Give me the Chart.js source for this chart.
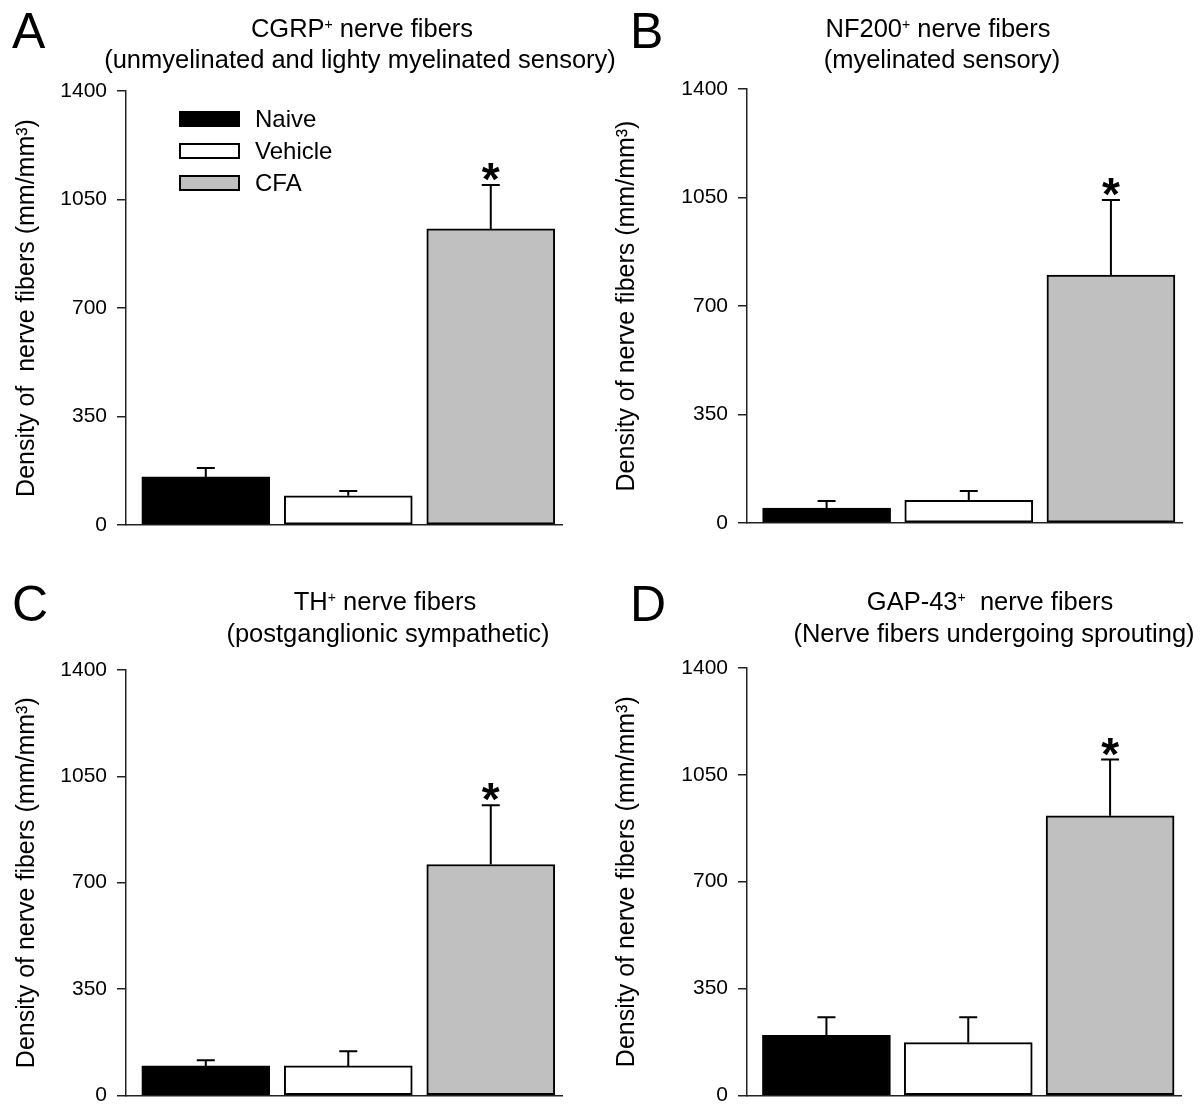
<!DOCTYPE html>
<html>
<head>
<meta charset="utf-8">
<script src="https://cdn.jsdelivr.net/npm/chart.js@4.4.1/dist/chart.umd.min.js"></script>
<style>
  body { margin: 0; background: #fff; font-family: "Liberation Sans", Arial, sans-serif; color: #000; }
  #wrap { position: relative; width: 1200px; height: 1118px; overflow: hidden; }
  canvas { position: absolute; }
  .letter { position: absolute; font-size: 50px; line-height: 1; }
  .ttl { position: absolute; font-size: 25.5px; line-height: 1; white-space: nowrap; transform: translateX(-50%); }
  .ttl sup { font-size: 55%; position: relative; top: -0.55em; vertical-align: baseline; }
  .lg { position: absolute; left: 179px; width: 57px; height: 12px; border: 2px solid #000; }
  .lgt { position: absolute; left: 255px; font-size: 24px; line-height: 1; }
</style>
</head>
<body>
<div id="wrap">
  <canvas id="chartA" width="600" height="559" style="left:0;top:0"></canvas>
  <canvas id="chartB" width="600" height="559" style="left:600px;top:0"></canvas>
  <canvas id="chartC" width="600" height="559" style="left:0;top:559px"></canvas>
  <canvas id="chartD" width="600" height="559" style="left:600px;top:559px"></canvas>

  <div class="letter" style="left:12px;top:6px">A</div>
  <div class="letter" style="left:630px;top:6px">B</div>
  <div class="letter" style="left:12px;top:579px">C</div>
  <div class="letter" style="left:630px;top:579px">D</div>

  <div class="ttl" style="left:362px;top:16px">CGRP<sup>+</sup> nerve fibers</div>
  <div class="ttl" style="left:360px;top:47px">(unmyelinated and lighty myelinated sensory)</div>
  <div class="ttl" style="left:938px;top:16px">NF200<sup>+</sup> nerve fibers</div>
  <div class="ttl" style="left:942px;top:47px">(myelinated sensory)</div>
  <div class="ttl" style="left:385px;top:589px">TH<sup>+</sup> nerve fibers</div>
  <div class="ttl" style="left:388px;top:621px">(postganglionic sympathetic)</div>
  <div class="ttl" style="left:990px;top:589px">GAP-43<sup>+</sup>&nbsp; nerve fibers</div>
  <div class="ttl" style="left:994px;top:621px">(Nerve fibers undergoing sprouting)</div>

  <div class="lg" style="top:111px;background:#000"></div>
  <div class="lg" style="top:143px;background:#fff"></div>
  <div class="lg" style="top:175px;background:#c0c0c0"></div>
  <div class="lgt" style="top:107px">Naive</div>
  <div class="lgt" style="top:139px">Vehicle</div>
  <div class="lgt" style="top:171px">CFA</div>
</div>

<script>
// groups (bar order) and y axis
const groups = ['Naive', 'Vehicle', 'CFA'];
const yMin = 0;
const yMax = 1400;
const yStep = 350;

// mean and SEM per panel
const cgrpMean = [155, 94, 955];
const cgrpSem = [29, 16, 142];
const nf200Mean = [48, 73, 800];
const nf200Sem = [23, 30, 242];
const thMean = [97, 97, 760];
const thSem = [19, 48, 195];
const gap43Mean = [197, 173, 916];
const gap43Sem = [59, 83, 184];
const significant = [false, false, true];

const barColors = ['#000000', '#ffffff', '#c0c0c0'];
const fontFamily = '"Liberation Sans", Arial, sans-serif';

// draws SEM whiskers (upper only) and the significance star
const errorBars = {
  id: 'errorBars',
  afterDatasetsDraw(chart) {
    const ctx = chart.ctx;
    const ds = chart.data.datasets[0];
    const meta = chart.getDatasetMeta(0);
    const yScale = chart.scales.y;
    ctx.save();
    ctx.strokeStyle = '#000';
    ctx.lineWidth = 2;
    meta.data.forEach((bar, i) => {
      const top = yScale.getPixelForValue(ds.data[i].y + ds.sem[i]);
      ctx.beginPath();
      ctx.moveTo(bar.x, bar.y);
      ctx.lineTo(bar.x, top);
      ctx.moveTo(bar.x - 9, top);
      ctx.lineTo(bar.x + 9, top);
      ctx.stroke();
      if (ds.stars[i]) {
        ctx.fillStyle = '#000';
        ctx.font = 'bold 46px ' + fontFamily;
        ctx.textAlign = 'center';
        ctx.textBaseline = 'alphabetic';
        ctx.fillText('*', bar.x, top + 10);
      }
    });
    ctx.restore();
  }
};

function makeChart(id, means, sems, yTitle, box) {
  const ctx = document.getElementById(id).getContext('2d');
  return new Chart(ctx, {
    type: 'bar',
    data: {
      datasets: [{
        label: groups.join(' / '),
        data: means.map((v, i) => ({ x: i, y: v })),
        sem: sems,
        stars: significant,
        backgroundColor: barColors,
        borderColor: '#000',
        borderWidth: 2,
        borderSkipped: false,
        barThickness: 128
      }]
    },
    options: {
      responsive: false,
      animation: false,
      layout: { padding: { left: 0, top: box.top, right: box.right, bottom: 0 } },
      plugins: { legend: { display: false }, tooltip: { enabled: false } },
      scales: {
        x: {
          type: 'linear',
          min: -0.56,
          max: 2.5,
          offset: false,
          ticks: { display: false },
          grid: { display: false },
          border: { display: true, color: '#222', width: 1.5 },
          afterFit: (s) => { s.height = box.xHeight; }
        },
        y: {
          min: yMin,
          max: yMax,
          ticks: {
            stepSize: yStep,
            color: '#000',
            padding: 10,
            font: { family: fontFamily, size: 21 },
            callback: (v) => String(v)
          },
          grid: { drawOnChartArea: false, drawTicks: true, tickLength: 9, color: '#222', lineWidth: 1.5 },
          border: { display: true, color: '#222', width: 1.5 },
          title: {
            display: true,
            text: yTitle,
            color: '#000',
            padding: { top: 12, bottom: 0 },
            font: { family: fontFamily, size: 25 }
          },
          afterFit: (s) => { s.width = box.axisX; }
        }
      }
    },
    plugins: [errorBars]
  });
}

makeChart('chartA', cgrpMean, cgrpSem, 'Density of  nerve fibers (mm/mm\u00b3)', { top: 91, right: 38, axisX: 126, xHeight: 34 });
makeChart('chartB', nf200Mean, nf200Sem, 'Density of nerve fibers (mm/mm\u00b3)', { top: 89, right: 18, axisX: 147, xHeight: 36 });
makeChart('chartC', thMean, thSem, 'Density of nerve fibers (mm/mm\u00b3)', { top: 111, right: 38, axisX: 126, xHeight: 15 });
makeChart('chartD', gap43Mean, gap43Sem, 'Density of nerve fibers (mm/mm\u00b3)', { top: 109, right: 19, axisX: 147, xHeight: 17 });
</script>
</body>
</html>
